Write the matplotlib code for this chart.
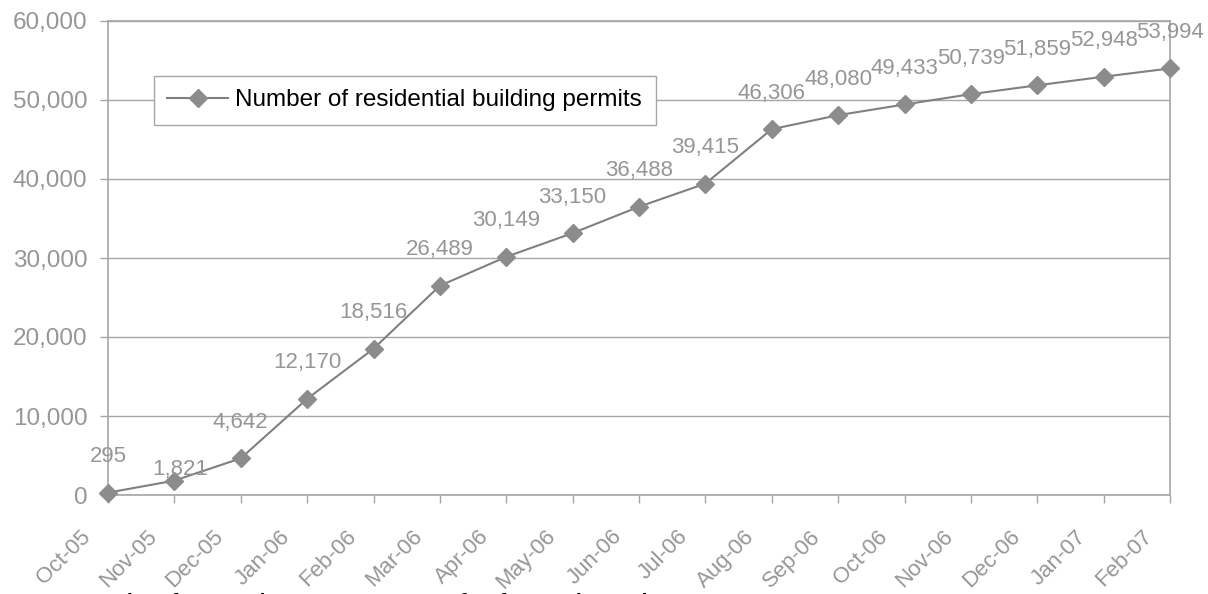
import numpy as np
import matplotlib
matplotlib.use("Agg")
import matplotlib.pyplot as plt

# monthly cumulative residential building permits
months = ["Oct-05", "Nov-05", "Dec-05", "Jan-06", "Feb-06", "Mar-06", "Apr-06",
          "May-06", "Jun-06", "Jul-06", "Aug-06", "Sep-06", "Oct-06", "Nov-06",
          "Dec-06", "Jan-07", "Feb-07"]
permits = [295, 1821, 4642, 12170, 18516, 26489, 30149, 33150, 36488, 39415,
           46306, 48080, 49433, 50739, 51859, 52948, 53994]
y_ticks = [0, 10000, 20000, 30000, 40000, 50000, 60000]
series_name = "Number of residential building permits"
source_note = "Source: City of New Orleans Department of Safety and Permits"

plt.rcParams['font.family'] = ['Liberation Sans', 'DejaVu Sans']

label_gray = '#969696'
line_gray = '#808080'
grid_gray = '#a6a6a6'

fig = plt.figure(figsize=(12.08, 5.94), dpi=100)
ax = fig.add_axes([108 / 1208, 99 / 594, 1062 / 1208, 474 / 594])

x = np.arange(len(months))
ax.plot(x, permits, color=line_gray, lw=1.5, marker='D', markersize=9.5,
        markerfacecolor='#8c8c8c', markeredgecolor='#8c8c8c', clip_on=False,
        zorder=3, label=series_name)

# data labels above each point (second one sits lower, as in the original)
for i, v in enumerate(permits):
    dx, dy = (4, 8) if i == 1 else (0, 26)
    ax.annotate(f"{v:,}", (x[i], v), xytext=(dx, dy), textcoords='offset points',
                ha='center', va='center', fontsize=16, color=label_gray,
                annotation_clip=False, zorder=4)

ax.set_xlim(0, len(months) - 1)
ax.set_ylim(0, 60000)
ax.set_yticks(y_ticks)
ax.set_yticklabels([f"{t:,}" for t in y_ticks])
ax.yaxis.grid(True, color=grid_gray, lw=1)
ax.set_axisbelow(True)

# month labels: rotated, ending a little left of and below each tick
ax.set_xticks(x)
ax.set_xticklabels([])
for i, m in enumerate(months):
    ax.annotate(m, (x[i], 0), xycoords=('data', 'axes fraction'),
                xytext=(-14.8, -27.7), textcoords='offset points',
                rotation=45, ha='right', va='center', rotation_mode='anchor',
                fontsize=16, color=label_gray, annotation_clip=False)

ax.tick_params(axis='x', direction='out', length=5.8, width=1, color=grid_gray)
ax.tick_params(axis='y', direction='out', length=5.8, width=1, color=grid_gray,
               labelsize=17.5, labelcolor=label_gray, pad=9)

for side in ['left', 'bottom', 'right', 'top']:
    ax.spines[side].set_color(grid_gray)
    ax.spines[side].set_linewidth(1.2)

leg = ax.legend(loc='upper left', bbox_to_anchor=(0.0433, 0.884),
                borderaxespad=0, fontsize=17.5, fancybox=False, frameon=True,
                borderpad=0.55, handlelength=2.5, handletextpad=0.3)
leg.get_frame().set_edgecolor(grid_gray)
leg.get_frame().set_linewidth(1)
leg.get_frame().set_alpha(1)

# source line sits mostly below the bottom edge, as in the original
fig.text(25 / 1208, 1.5 / 594, source_note, ha='left', va='top', fontsize=15.5,
         fontweight='bold', color='black')

fig.savefig('out.png', dpi=100)
